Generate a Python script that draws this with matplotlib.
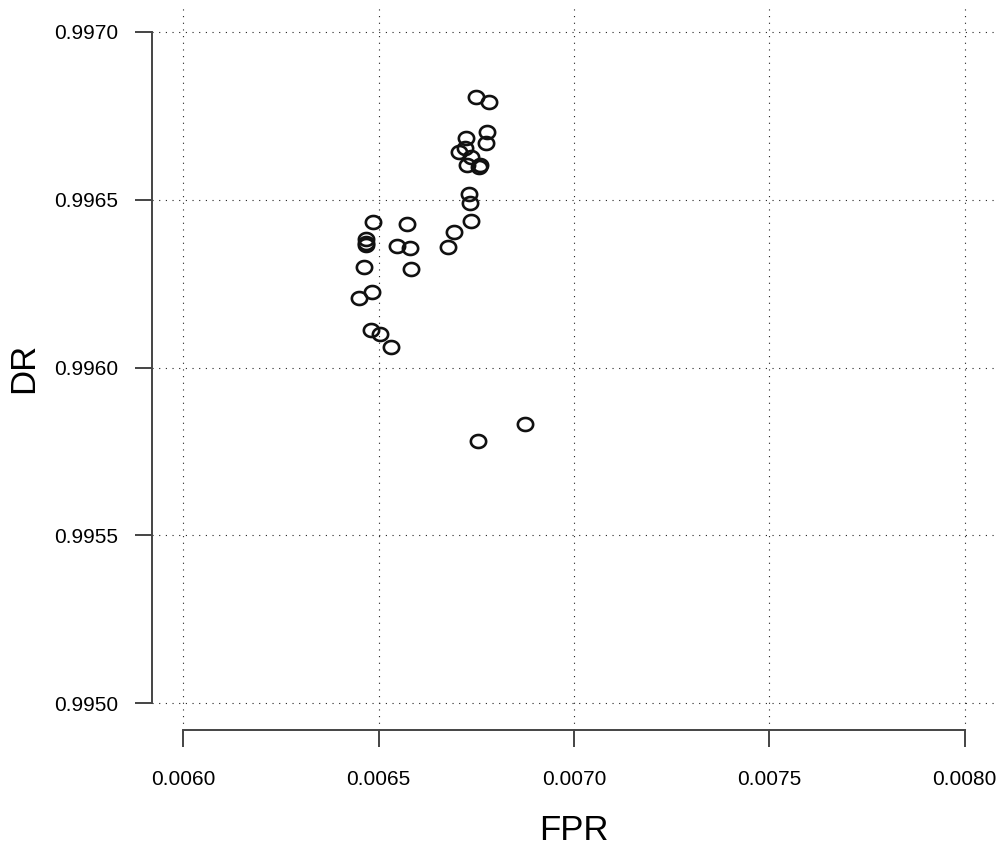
import numpy as np
import matplotlib.pyplot as plt
from matplotlib.path import Path

plt.rcParams['font.family'] = ['Liberation Sans', 'DejaVu Sans']

# FPR / DR pairs
fpr = [0.006749, 0.006783, 0.006777, 0.006775, 0.006724, 0.006721, 0.006706,
       0.006737, 0.006726, 0.006760, 0.006757, 0.006731, 0.006734, 0.006737,
       0.006693, 0.006678, 0.006486, 0.006573, 0.006468, 0.006468, 0.006468,
       0.006547, 0.006581, 0.006463, 0.006583, 0.006483, 0.006450, 0.006481,
       0.006504, 0.006532, 0.006754, 0.006875]
dr = [0.996806, 0.996791, 0.996702, 0.996669, 0.996684, 0.996654, 0.996642,
      0.996627, 0.996604, 0.996604, 0.996598, 0.996517, 0.996490, 0.996437,
      0.996404, 0.996359, 0.996434, 0.996428, 0.996383, 0.996371, 0.996365,
      0.996362, 0.996356, 0.996300, 0.996294, 0.996225, 0.996207, 0.996112,
      0.996100, 0.996061, 0.995781, 0.995832]

x_ticks = [0.0060, 0.0065, 0.0070, 0.0075, 0.0080]
y_ticks = [0.9950, 0.9955, 0.9960, 0.9965, 0.9970]

# slightly flattened circle, like the original symbols
t = np.linspace(0, 2 * np.pi, 60)
ellipse = Path(np.column_stack([np.cos(t), 0.85 * np.sin(t)]), closed=True)

fig = plt.figure(figsize=(10.08, 8.5), dpi=100)
ax = fig.add_axes([152 / 1008, 120 / 850, 844 / 1008, 725 / 850])

# R-style: data range padded by 4%
xr = x_ticks[-1] - x_ticks[0]
yr = y_ticks[-1] - y_ticks[0]
ax.set_xlim(x_ticks[0] - 0.04 * xr, x_ticks[-1] + 0.04 * xr)
ax.set_ylim(y_ticks[0] - 0.04 * yr, y_ticks[-1] + 0.04 * yr)

for v in x_ticks:
    ax.axvline(v, color='#222222', linestyle=(0, (1, 5)), linewidth=0.8, zorder=0)
for v in y_ticks:
    ax.axhline(v, color='#222222', linestyle=(0, (1, 5)), linewidth=0.8, zorder=0)

ax.plot(fpr, dr, linestyle='none', marker=ellipse, markersize=11,
        markerfacecolor='none', markeredgecolor='#111111', markeredgewidth=1.9)

ax.set_xticks(x_ticks)
ax.set_xticklabels(['%.4f' % v for v in x_ticks])
ax.set_yticks(y_ticks)
ax.set_yticklabels(['%.4f' % v for v in y_ticks])

for side in ['top', 'right']:
    ax.spines[side].set_visible(False)
ax.spines['left'].set_bounds(y_ticks[0], y_ticks[-1])
ax.spines['bottom'].set_bounds(x_ticks[0], x_ticks[-1])
for side in ['left', 'bottom']:
    ax.spines[side].set_color('#444444')
    ax.spines[side].set_linewidth(1.4)

ax.tick_params(direction='out', length=12.5, width=1.4, color='#444444',
               labelsize=15, pad=16)
ax.tick_params(axis='y', pad=12)

ax.set_xlabel('FPR', fontsize=25, labelpad=18)
ax.set_ylabel('DR', fontsize=25, labelpad=10)

fig.savefig('out.png', dpi=100)
